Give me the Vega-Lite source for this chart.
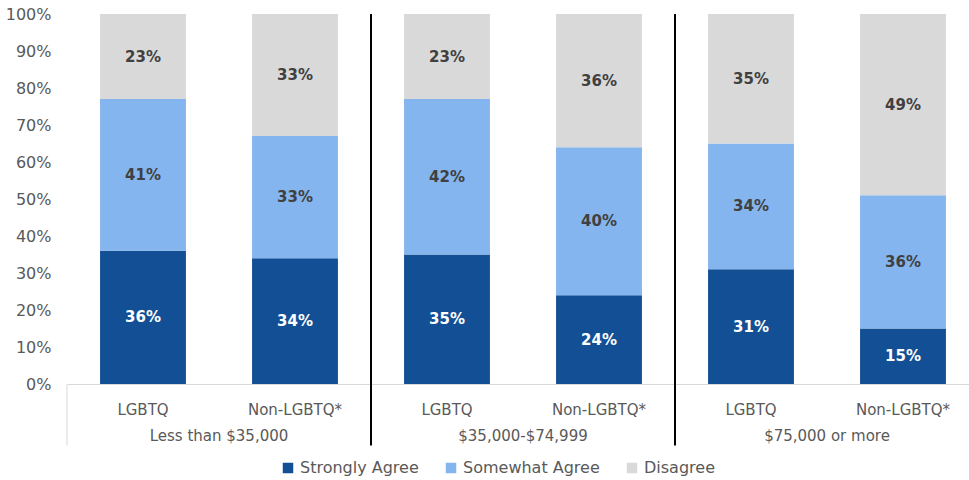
{
  "$schema": "https://vega.github.io/schema/vega-lite/v6.json",
  "padding": {"left": 5, "top": 6, "right": 0, "bottom": 0},
  "data": {"values": [
    {"group": "Less than $35,000", "sub": "LGBTQ", "resp": "Strongly Agree", "v": 0.36},
    {"group": "Less than $35,000", "sub": "LGBTQ", "resp": "Somewhat Agree", "v": 0.41},
    {"group": "Less than $35,000", "sub": "LGBTQ", "resp": "Disagree", "v": 0.23},
    {"group": "Less than $35,000", "sub": "Non-LGBTQ*", "resp": "Strongly Agree", "v": 0.34},
    {"group": "Less than $35,000", "sub": "Non-LGBTQ*", "resp": "Somewhat Agree", "v": 0.33},
    {"group": "Less than $35,000", "sub": "Non-LGBTQ*", "resp": "Disagree", "v": 0.33},
    {"group": "$35,000-$74,999", "sub": "LGBTQ", "resp": "Strongly Agree", "v": 0.35},
    {"group": "$35,000-$74,999", "sub": "LGBTQ", "resp": "Somewhat Agree", "v": 0.42},
    {"group": "$35,000-$74,999", "sub": "LGBTQ", "resp": "Disagree", "v": 0.23},
    {"group": "$35,000-$74,999", "sub": "Non-LGBTQ*", "resp": "Strongly Agree", "v": 0.24},
    {"group": "$35,000-$74,999", "sub": "Non-LGBTQ*", "resp": "Somewhat Agree", "v": 0.40},
    {"group": "$35,000-$74,999", "sub": "Non-LGBTQ*", "resp": "Disagree", "v": 0.36},
    {"group": "$75,000 or more", "sub": "LGBTQ", "resp": "Strongly Agree", "v": 0.31},
    {"group": "$75,000 or more", "sub": "LGBTQ", "resp": "Somewhat Agree", "v": 0.34},
    {"group": "$75,000 or more", "sub": "LGBTQ", "resp": "Disagree", "v": 0.35},
    {"group": "$75,000 or more", "sub": "Non-LGBTQ*", "resp": "Strongly Agree", "v": 0.15},
    {"group": "$75,000 or more", "sub": "Non-LGBTQ*", "resp": "Somewhat Agree", "v": 0.36},
    {"group": "$75,000 or more", "sub": "Non-LGBTQ*", "resp": "Disagree", "v": 0.49}
  ]},
  "facet": {
    "column": {
      "field": "group", "type": "nominal",
      "sort": ["Less than $35,000", "$35,000-$74,999", "$75,000 or more"],
      "header": {"title": null, "labelOrient": "bottom", "labelPadding": 12, "labelFontSize": 15, "labelColor": "#595959", "labelFont": "DejaVu Sans"}
    }
  },
  "spacing": 0,
  "bounds": "flush",
  "spec": {
    "width": 304,
    "height": 370,
    "encoding": {
      "x": {"field": "sub", "type": "nominal", "sort": ["LGBTQ", "Non-LGBTQ*"],
        "scale": {"paddingInner": 0, "paddingOuter": 0},
        "axis": {"title": null, "labelAngle": 0, "ticks": false, "domainColor": "#d9d9d9", "domainWidth": 1, "labelPadding": 18, "labelFontSize": 15, "labelColor": "#595959", "labelFont": "DejaVu Sans"}}
    },
    "layer": [
      {
        "mark": {"type": "bar", "width": {"band": 0.565}},
        "encoding": {
          "y": {"field": "v", "type": "quantitative", "stack": "zero",
            "scale": {"domain": [0, 1], "nice": false},
            "axis": {"title": null, "values": [0, 0.1, 0.2, 0.3, 0.4, 0.5, 0.6, 0.7, 0.8, 0.9, 1], "tickCount": 11, "format": ".0%", "labelOverlap": false, "domain": false, "ticks": false, "grid": false, "labelPadding": 16, "labelFontSize": 16, "labelColor": "#595959", "labelFont": "DejaVu Sans"}},
          "color": {"field": "resp", "type": "nominal",
            "scale": {"domain": ["Strongly Agree", "Somewhat Agree", "Disagree"], "range": ["#124F94", "#84B5EE", "#D9D9D9"]},
            "legend": {"title": null, "orient": "none", "legendX": 213, "legendY": 446, "direction": "horizontal", "symbolType": "square", "symbolSize": 110, "symbolStrokeWidth": 0, "labelFontSize": 16, "labelColor": "#595959", "labelFont": "DejaVu Sans", "columnPadding": 24}},
          "order": {"field": "resp", "sort": "descending"}
        }
      },
      {
        "mark": {"type": "text", "font": "DejaVu Sans", "fontWeight": "bold", "fontSize": 15, "baseline": "middle"},
        "encoding": {
          "y": {"field": "v", "type": "quantitative", "stack": "zero", "bandPosition": 0.5},
          "text": {"field": "v", "type": "quantitative", "format": ".0%"},
          "order": {"field": "resp", "sort": "descending"},
          "color": {"condition": {"test": "datum.resp === 'Strongly Agree'", "value": "#ffffff"}, "value": "#404040"}
        }
      },
      {
        "transform": [{"filter": "datum.group === 'Less than $35,000' && datum.sub === 'LGBTQ' && datum.resp === 'Disagree'"}],
        "mark": {"type": "rule", "color": "#d9d9d9", "strokeWidth": 1},
        "encoding": {
          "x": {"field": "sub", "type": "nominal", "bandPosition": 0},
          "y": {"datum": 0},
          "y2": {"datum": -0.166}
        }
      },
      {
        "transform": [{"filter": "datum.group !== '$75,000 or more' && datum.sub === 'Non-LGBTQ*' && datum.resp === 'Disagree'"}],
        "mark": {"type": "rule", "color": "#000000", "strokeWidth": 2},
        "encoding": {
          "x": {"field": "sub", "type": "nominal", "bandPosition": 1},
          "y": {"datum": 1},
          "y2": {"datum": -0.166}
        }
      }
    ]
  },
  "config": {"view": {"stroke": null}, "font": "DejaVu Sans", "axisY": {"labelOverlap": false, "tickCount": 11}}
}
